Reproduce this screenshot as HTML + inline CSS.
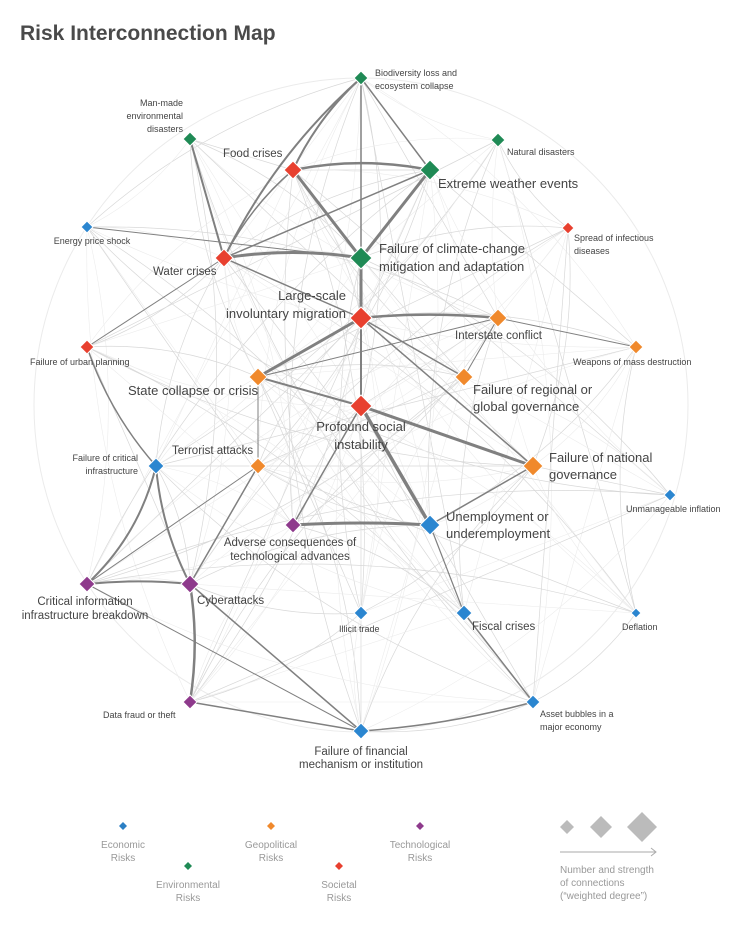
<!DOCTYPE html>
<html><head><meta charset="utf-8"><style>
body{margin:0;background:#fff;width:730px;height:931px;overflow:hidden;font-family:"Liberation Sans",sans-serif}
svg text{font-family:"Liberation Sans",sans-serif}
</style></head><body>
<svg id="s" width="730" height="931" xmlns="http://www.w3.org/2000/svg">
<text x="20" y="40" font-size="21" font-weight="bold" fill="#4a4a4a">Risk Interconnection Map</text>
<circle cx="361" cy="405" r="327" fill="none" stroke="#ebebeb" stroke-width="1"/>
<g id="light"></g><g id="dark"></g><g id="nodes"></g>
<g fill="#444" font-size="9">
<text x="375" y="76">Biodiversity loss and</text><text x="375" y="89">ecosystem collapse</text>
<text x="183" y="106" text-anchor="end">Man-made</text><text x="183" y="119" text-anchor="end">environmental</text><text x="183" y="132" text-anchor="end">disasters</text>
<text x="507" y="155">Natural disasters</text>
<text x="92" y="244" text-anchor="middle">Energy price shock</text>
<text x="574" y="241">Spread of infectious</text><text x="574" y="254">diseases</text>
<text x="30" y="365">Failure of urban planning</text>
<text x="573" y="365">Weapons of mass destruction</text>
<text x="138" y="461" text-anchor="end">Failure of critical</text><text x="138" y="474" text-anchor="end">infrastructure</text>
<text x="626" y="512">Unmanageable inflation</text>
<text x="622" y="630">Deflation</text>
<text x="339" y="632">Illicit trade</text>
<text x="103" y="718">Data fraud or theft</text>
<text x="540" y="717">Asset bubbles in a</text><text x="540" y="730">major economy</text>
</g>
<g fill="#444" font-size="11.5">
<text x="223" y="157">Food crises</text>
<text x="153" y="275">Water crises</text>
<text x="85" y="605" text-anchor="middle">Critical information</text><text x="85" y="619" text-anchor="middle">infrastructure breakdown</text>
<text x="197" y="604">Cyberattacks</text>
<text x="290" y="546" text-anchor="middle">Adverse consequences of</text><text x="290" y="560" text-anchor="middle">technological advances</text>
<text x="472" y="630">Fiscal crises</text>
<text x="361" y="755" text-anchor="middle">Failure of financial</text><text x="361" y="768" text-anchor="middle">mechanism or institution</text>
<text x="172" y="454">Terrorist attacks</text>
<text x="455" y="339">Interstate conflict</text>
</g>
<g fill="#444" font-size="13">
<text x="438" y="188">Extreme weather events</text>
<text x="379" y="253">Failure of climate-change</text><text x="379" y="271">mitigation and adaptation</text>
<text x="346" y="300" text-anchor="end">Large-scale</text><text x="346" y="318" text-anchor="end">involuntary migration</text>
<text x="128" y="395">State collapse or crisis</text>
<text x="473" y="394">Failure of regional or</text><text x="473" y="411">global governance</text>
<text x="361" y="431" text-anchor="middle">Profound social</text><text x="361" y="449" text-anchor="middle">instability</text>
<text x="549" y="462">Failure of national</text><text x="549" y="479">governance</text>
<text x="446" y="521">Unemployment or</text><text x="446" y="538">underemployment</text>
</g>
<g font-size="10" fill="#999" text-anchor="middle">
<path d="M123 822l4 4-4 4-4-4z" fill="#2b7fc4"/><text x="123" y="848">Economic</text><text x="123" y="861">Risks</text>
<path d="M188 862l4 4-4 4-4-4z" fill="#1f8a55"/><text x="188" y="888">Environmental</text><text x="188" y="901">Risks</text>
<path d="M271 822l4 4-4 4-4-4z" fill="#f0892c"/><text x="271" y="848">Geopolitical</text><text x="271" y="861">Risks</text>
<path d="M339 862l4 4-4 4-4-4z" fill="#e8402f"/><text x="339" y="888">Societal</text><text x="339" y="901">Risks</text>
<path d="M420 822l4 4-4 4-4-4z" fill="#8e3a8c"/><text x="420" y="848">Technological</text><text x="420" y="861">Risks</text>
</g>
<g fill="#bbb"><path d="M567 820l7 7-7 7-7-7z"/><path d="M601 816l11 11-11 11-11-11z"/><path d="M642 812l15 15-15 15-15-15z"/></g>
<path d="M560 852H656M651 848l5 4-5 4" stroke="#aaa" fill="none"/>
<g font-size="10" fill="#999"><text x="560" y="873">Number and strength</text><text x="560" y="886">of connections</text><text x="560" y="899">(“weighted degree”)</text></g>
</svg>
<script>
var G="#1f8a55",R="#e8402f",O="#f0892c",P="#8e3a8c",B="#2b86d0";
var N={bio:[361,78,G,7],man:[190,139,G,7],nat:[498,140,G,7],food:[293,170,R,9],ext:[430,170,G,10],ene:[87,227,B,6],inf:[568,228,R,6],wat:[224,258,R,9],cli:[361,258,G,11],mig:[361,318,R,11],int:[498,318,O,9],urb:[87,347,R,7],wmd:[636,347,O,7],sta:[258,377,O,9],reg:[464,377,O,9],soc:[361,406,R,11],cri:[156,466,B,8],ter:[258,466,O,8],nag:[533,466,O,10],inflx:[670,495,B,6],adv:[293,525,P,8],une:[430,525,B,10],cib:[87,584,P,8],cyb:[190,584,P,9],ill:[361,613,B,7],fis:[464,613,B,8],def:[636,613,B,5],dat:[190,702,P,7],ass:[533,702,B,7],fin:[361,731,B,8]};
var k=Object.keys(N),ns="http://www.w3.org/2000/svg";
function L(g,a,b,c,w,cv){var p=document.createElementNS(ns,"path"),A=N[a],Bb=N[b];var mx=(A[0]+Bb[0])/2,my=(A[1]+Bb[1])/2,dx=Bb[0]-A[0],dy=Bb[1]-A[1];cv=cv||0;var qx=mx-dy*cv,qy=my+dx*cv;p.setAttribute("d","M"+A[0]+" "+A[1]+"Q"+qx+" "+qy+" "+Bb[0]+" "+Bb[1]);p.setAttribute("stroke",c);p.setAttribute("stroke-width",w);p.setAttribute("fill","none");document.getElementById(g).appendChild(p);}
for(var i=0;i<k.length;i++)for(var j=i+1;j<k.length;j++){var h=(i*7+j*11)%5;if(h==0)L("light",k[i],k[j],"#d8d8d8",0.7,((i+j)%3-1)*0.12);else if(h==2)L("light",k[i],k[j],"#ececec",0.6,((i+j)%3-1)*0.12);}
var D=[["bio","food",2,0.1],["bio","ext",1.5,0],["bio","wat",2,0.1],["bio","cli",1.5,0],["food","ext",2.5,-0.1],["food","cli",3,0],["food","wat",1.5,0.1],["ext","cli",3,0],["ext","wat",1.5,0],["man","wat",2,0],["wat","cli",3,-0.08],["wat","mig",1.5,0],["cli","mig",3,0],["mig","int",2.5,-0.05],["mig","sta",3,0],["mig","soc",2,0],["mig","reg",1.5,0],["sta","soc",2,0],["soc","nag",3,0],["soc","une",3.5,0],["soc","adv",1.5,0],["adv","une",3,-0.03],["une","nag",1.5,0],["une","fis",1.2,0],["ter","cyb",1.5,0],["cri","cib",2,-0.15],["cri","cyb",2,0.1],["urb","cri",1.5,0.1],["cib","cyb",2,-0.05],["cyb","dat",2.5,-0.08],["cyb","fin",1.5,0],["dat","fin",1.5,0],["fin","ass",1.5,0.05],["fis","ass",1.5,0],["int","wmd",1,0],["mig","nag",1.5,0],["int","sta",1,0],["wat","urb",1,0],["sta","ter",1,0],["reg","int",1,0],["fin","cib",1,0],["ene","cli",1,0],["ter","cib",1,0]];
D.forEach(function(d){L("dark",d[0],d[1],"#808080",d[2],d[3]);});
k.forEach(function(a){var n=N[a],p=document.createElementNS(ns,"path"),r=n[3];p.setAttribute("d","M"+n[0]+" "+(n[1]-r)+"l"+r+" "+r+"l"+(-r)+" "+r+"l"+(-r)+" "+(-r)+"z");p.setAttribute("fill",n[2]);p.setAttribute("stroke","#fff");p.setAttribute("stroke-width","1");document.getElementById("nodes").appendChild(p);});
</script>
</body></html>
